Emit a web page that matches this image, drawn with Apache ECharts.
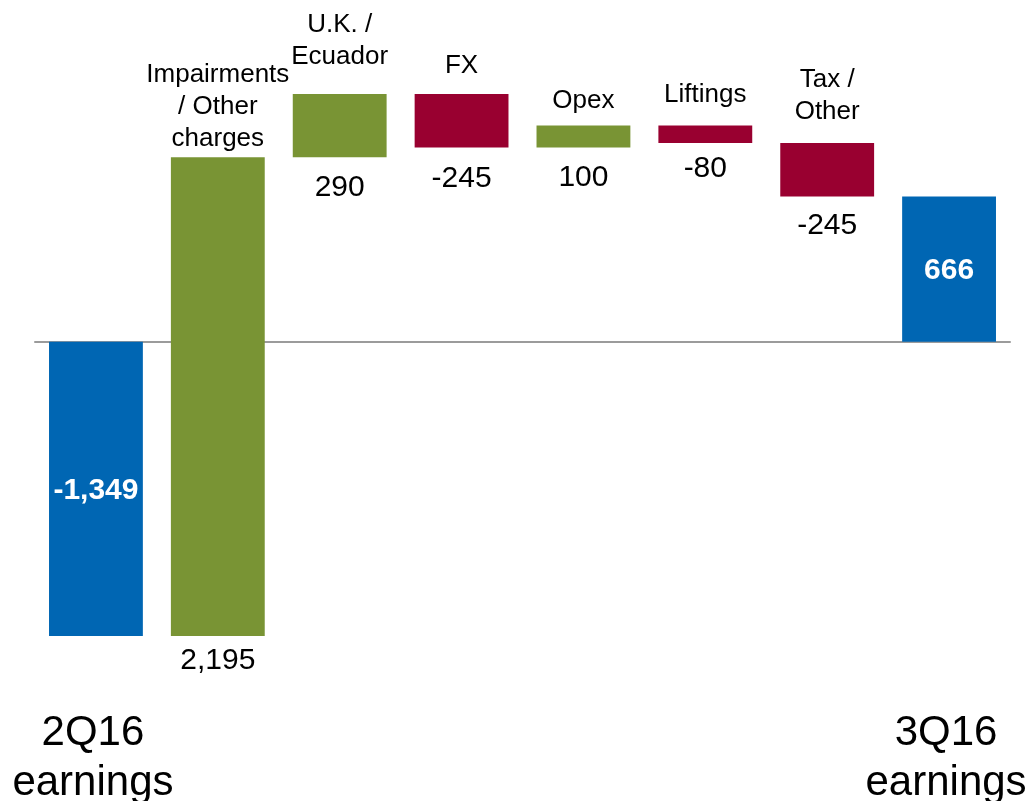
<!DOCTYPE html>
<html>
<head>
<meta charset="utf-8">
<script src="https://cdn.jsdelivr.net/npm/echarts@6/dist/echarts.min.js"></script>
<style>
html, body { margin: 0; padding: 0; background: #fff; }
#main { width: 1027px; height: 801px; }
</style>
</head>
<body>
<div id="main"></div>
<script>
// earnings bridge 2Q16 -> 3Q16
var categories = ['2Q16\nearnings', 'Impairments\n/ Other\ncharges', 'U.K. /\nEcuador', 'FX', 'Opex', 'Liftings', 'Tax /\nOther', '3Q16\nearnings'];
var changes = [-1349, 2195, 290, -245, 100, -80, -245, 666];
var isTotal = [true, false, false, false, false, false, false, true];
var valueLabels = ['-1,349', '2,195', '290', '-245', '100', '-80', '-245', '666'];

// label nudges (px) - the text boxes in the original are not evenly placed
var nameGap = [0, 2, 21, 12, 9, 15, 15, 0];
var valueGap = [0, 25, 31, 31, 30, 26, 29, 0];

var BLUE = '#0066b3';
var GREEN = '#799434';
var RED = '#990030';
var FONT = '"Liberation Sans", Arial, sans-serif';

var rows = [];
var running = 0;
for (var i = 0; i < categories.length; i++) {
    var start, end;
    if (isTotal[i]) {
        start = 0;
        end = changes[i];
        running = changes[i];
    } else {
        start = running;
        end = running + changes[i];
        running = end;
    }
    rows.push([i, start, end]);
}

var myChart = echarts.init(document.getElementById('main'));

var option = {
    animation: false,
    grid: { left: 35, right: 17, top: 80, bottom: 132 },
    xAxis: {
        type: 'category',
        data: categories,
        axisLine: { onZero: true, lineStyle: { color: '#9b9b9b', width: 2 } },
        axisTick: { show: false },
        axisLabel: { show: false },
        splitLine: { show: false }
    },
    yAxis: {
        type: 'value',
        min: -1500,
        max: 1200,
        show: false,
        splitLine: { show: false }
    },
    series: [
        {
            type: 'custom',
            data: rows,
            encode: { x: 0, y: [1, 2] },
            renderItem: function (params, api) {
                var idx = api.value(0);
                var p0 = api.coord([idx, api.value(1)]);
                var p1 = api.coord([idx, api.value(2)]);
                var bottomY = api.coord([idx, -1500])[1];
                var bw = api.size([1, 0])[0] * 0.77;
                var top = Math.min(p0[1], p1[1]);
                var bot = Math.max(p0[1], p1[1]);
                var cx = p0[0];
                var color = isTotal[idx] ? BLUE : (changes[idx] > 0 ? GREEN : RED);
                var kids = [{
                    type: 'rect',
                    shape: { x: cx - bw / 2, y: top, width: bw, height: bot - top },
                    style: { fill: color }
                }];
                if (isTotal[idx]) {
                    kids.push({
                        type: 'text',
                        style: {
                            text: valueLabels[idx], x: cx, y: (top + bot) / 2 + 2,
                            align: 'center', verticalAlign: 'middle',
                            fontSize: 30, fontWeight: 'bold', fontFamily: FONT, fill: '#fff'
                        }
                    });
                    kids.push({
                        type: 'text',
                        style: {
                            text: categories[idx], x: cx - 3, y: bottomY + 39,
                            align: 'center', verticalAlign: 'top',
                            fontSize: 42, lineHeight: 50, fontFamily: FONT, fill: '#000'
                        }
                    });
                } else {
                    kids.push({
                        type: 'text',
                        style: {
                            text: valueLabels[idx], x: cx, y: bot + valueGap[idx],
                            align: 'center', verticalAlign: 'middle',
                            fontSize: 30, fontFamily: FONT, fill: '#000'
                        }
                    });
                    kids.push({
                        type: 'text',
                        style: {
                            text: categories[idx], x: cx, y: top - nameGap[idx],
                            align: 'center', verticalAlign: 'bottom',
                            fontSize: 26, lineHeight: 32, fontFamily: FONT, fill: '#000'
                        }
                    });
                }
                return { type: 'group', children: kids };
            }
        }
    ]
};
myChart.setOption(option);
</script>
</body>
</html>
